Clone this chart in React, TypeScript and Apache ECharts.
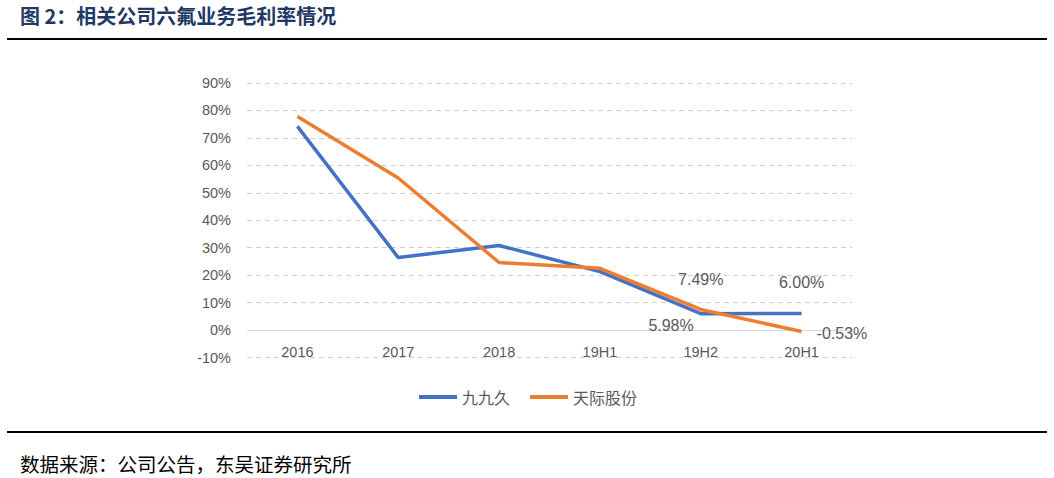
import React, { useEffect, useRef } from "react";
import * as echarts from "echarts";

const categories = ["2016", "2017", "2018", "19H1", "19H2", "20H1"];
const jiujiujiu = [74.2, 26.4, 30.8, 21.3, 5.98, 6.0];
const tianji = [77.8, 55.4, 24.6, 22.5, 7.49, -0.53];
const seriesNames = ["九九久", "天际股份"];
const titleText = "图 2：相关公司六氟业务毛利率情况";
const sourceText = "数据来源：公司公告，东吴证券研究所";

export default function App() {
  const ref = useRef<HTMLDivElement>(null);
  useEffect(() => {
    if (!ref.current) return;
    const chart = echarts.init(ref.current, undefined, { renderer: "svg" });
    const gray = "#595959";
    const numFont = "Liberation Sans, Arial, sans-serif";
    const cjk = "Noto Sans CJK SC, sans-serif";
    const blueData = jiujiujiu.map((v, i) => {
      if (i === 4)
        return { value: v, label: { show: true, position: "left", offset: [-2, 12], formatter: v.toFixed(2) + "%" } };
      if (i === 5)
        return { value: v, label: { show: true, position: "top", offset: [0, -18], formatter: v.toFixed(2) + "%" } };
      return v;
    });
    const orangeData = tianji.map((v, i) => {
      if (i === 4)
        return { value: v, label: { show: true, position: "top", offset: [0, -17], formatter: v.toFixed(2) + "%" } };
      if (i === 5)
        return { value: v, label: { show: true, position: "right", offset: [10, 2], formatter: v.toFixed(2) + "%" } };
      return v;
    });
    chart.setOption({
      animation: false,
      backgroundColor: "#ffffff",
      grid: { left: 247, right: 202, top: 83, bottom: 120.5, containLabel: false },
      legend: {
        data: seriesNames,
        left: 414,
        top: 384,
        icon: "rect",
        itemWidth: 38,
        itemHeight: 4,
        itemGap: 20,
        textStyle: { color: gray, fontSize: 16, fontFamily: cjk },
      },
      xAxis: {
        type: "category",
        data: categories,
        boundaryGap: true,
        axisLine: { show: true, onZero: true, lineStyle: { color: "#d9d9d9", width: 1 } },
        axisTick: { show: false },
        axisLabel: { color: gray, fontSize: 14.5, fontFamily: numFont, margin: -13 },
      },
      yAxis: {
        type: "value",
        min: -10,
        max: 90,
        interval: 10,
        axisLine: { show: false },
        axisTick: { show: false },
        axisLabel: { color: gray, fontSize: 14.5, fontFamily: numFont, formatter: "{value}%", margin: 16 },
        splitLine: {
          show: true,
          lineStyle: { color: "#d0d0d0", type: [5, 4], width: 1 },
        },
      },
      series: [
        {
          name: seriesNames[0],
          type: "line",
          data: blueData,
          symbol: "circle",
          symbolSize: 0,
          showSymbol: true,
          lineStyle: { color: "#4472C4", width: 3.5 },
          itemStyle: { color: "#4472C4" },
          label: { color: gray, fontSize: 16, fontFamily: numFont },
          z: 2,
        },
        {
          name: seriesNames[1],
          type: "line",
          data: orangeData,
          symbol: "circle",
          symbolSize: 0,
          showSymbol: true,
          lineStyle: { color: "#ED7D31", width: 3.5 },
          itemStyle: { color: "#ED7D31" },
          label: { color: gray, fontSize: 16, fontFamily: numFont },
          z: 3,
        },
      ],
      graphic: [
        {
          type: "text",
          left: 20,
          top: 5,
          style: { text: titleText, fontSize: 20, fontWeight: "bold", fill: "#1f3864", fontFamily: cjk },
        },
        {
          type: "rect",
          shape: { x: 7, y: 38, width: 1040, height: 2 },
          style: { fill: "#000000" },
        },
        {
          type: "rect",
          shape: { x: 7, y: 431, width: 1040, height: 2 },
          style: { fill: "#000000" },
        },
        {
          type: "text",
          left: 20,
          top: 454,
          style: { text: sourceText, fontSize: 19.5, fill: "#000000", fontFamily: cjk },
        },
      ],
    });
    return () => chart.dispose();
  }, []);
  return (
    <div
      ref={ref}
      style={{ position: "fixed", left: 0, top: 0, width: 1054, height: 478, background: "#fff" }}
    />
  );
}
